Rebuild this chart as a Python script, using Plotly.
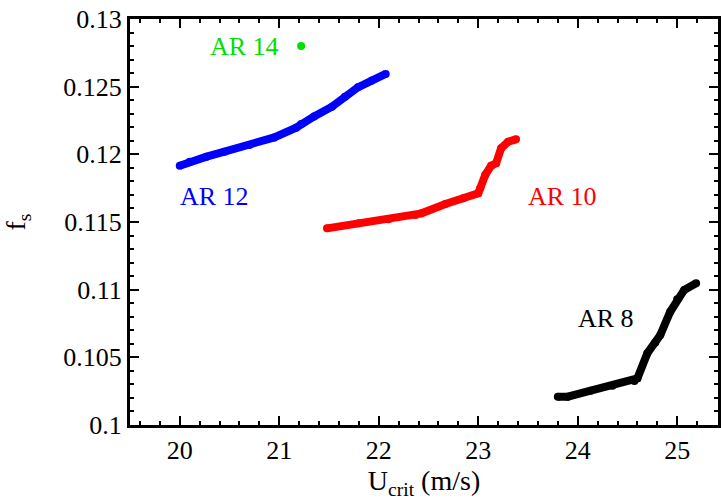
import plotly.graph_objects as go

# AR 12 (blue)
ar12_x = [20.00, 20.10, 20.27, 20.45, 20.70, 20.95, 21.17, 21.22, 21.35, 21.53, 21.66, 21.79, 21.93, 22.07]
ar12_y = [0.11916, 0.11945, 0.11983, 0.12020, 0.12069, 0.12125, 0.12197, 0.12224, 0.12280, 0.12352, 0.12425, 0.12495, 0.12545, 0.12594]
# AR 10 (red)
ar10_x = [21.48, 21.80, 22.10, 22.37, 22.43, 22.67, 22.85, 23.00, 23.02, 23.07, 23.13, 23.18, 23.23, 23.30, 23.38]
ar10_y = [0.11453, 0.11490, 0.11520, 0.11552, 0.11564, 0.11633, 0.11675, 0.11712, 0.11749, 0.11847, 0.11916, 0.11934, 0.12045, 0.12093, 0.12111]
# AR 8 (black)
ar8_x = [23.80, 23.90, 24.13, 24.35, 24.57, 24.60, 24.70, 24.78, 24.83, 24.93, 25.00, 25.07, 25.19]
ar8_y = [0.10209, 0.10209, 0.10254, 0.10290, 0.10325, 0.10345, 0.10530, 0.10610, 0.10665, 0.10837, 0.10930, 0.10998, 0.11047]
# AR 14 (green, single point)
ar14_x = [21.22]
ar14_y = [0.1280]

labels = ["AR 14", "AR 12", "AR 10", "AR 8"]
label_x = [20.65, 20.35, 23.85, 24.28]
label_y = [0.1280, 0.11687, 0.11687, 0.10788]
label_colors = ["#00e000", "#0000ff", "#ff0000", "#000000"]

x_ticks = [20, 21, 22, 23, 24, 25]
x_ticktext = ["20", "21", "22", "23", "24", "25"]
y_ticks = [0.1, 0.105, 0.11, 0.115, 0.12, 0.125, 0.13]
y_ticktext = ["0.1", "0.105", "0.11", "0.115", "0.12", "0.125", "0.13"]

FONT = "Liberation Serif"

fig = go.Figure()
for xs, ys, col in [(ar12_x, ar12_y, "#0000ff"), (ar10_x, ar10_y, "#ff0000"),
                    (ar8_x, ar8_y, "#000000")]:
    fig.add_trace(go.Scatter(x=xs, y=ys, mode="lines+markers",
                             line=dict(color=col, width=8),
                             marker=dict(color=col, size=8),
                             showlegend=False, hoverinfo="skip"))
fig.add_trace(go.Scatter(x=ar14_x, y=ar14_y, mode="markers",
                         marker=dict(color="#00e000", size=8),
                         showlegend=False))

for t, x, y, c in zip(labels, label_x, label_y, label_colors):
    fig.add_annotation(x=x, y=y, text=t, showarrow=False,
                       font=dict(family=FONT, size=26, color=c),
                       xanchor="center", yanchor="middle")

fig.update_layout(width=721, height=504, plot_bgcolor="white", paper_bgcolor="white",
                  font=dict(family=FONT, size=26, color="black"),
                  margin=dict(l=130, r=0, t=19, b=79))

fig.update_xaxes(range=[19.5, 25.41], tickvals=x_ticks, ticktext=x_ticktext,
                 showline=True, linecolor="black", linewidth=3, mirror="ticks",
                 ticks="inside", tickcolor="black", tickwidth=2, ticklen=9,
                 showgrid=False, zeroline=False,
                 tickfont=dict(family=FONT, size=26, color="black"),
                 minor=dict(dtick=0.2, ticks="inside", ticklen=4, tickwidth=2, tickcolor="black"),
                 title=dict(text="U<sub>crit</sub> (m/s)", font=dict(family=FONT, size=28, color="black"), standoff=3))
fig.update_yaxes(range=[0.1, 0.13], tickvals=y_ticks, ticktext=y_ticktext,
                 showline=True, linecolor="black", linewidth=3, mirror="ticks",
                 ticks="inside", tickcolor="black", tickwidth=2, ticklen=9,
                 showgrid=False, zeroline=False,
                 tickfont=dict(family=FONT, size=26, color="black"),
                 minor=dict(dtick=0.001, ticks="inside", ticklen=4, tickwidth=2, tickcolor="black"),
                 title=dict(text="f<sub>s</sub>", font=dict(family=FONT, size=28, color="black"), standoff=30))

fig.write_html("out.html")
